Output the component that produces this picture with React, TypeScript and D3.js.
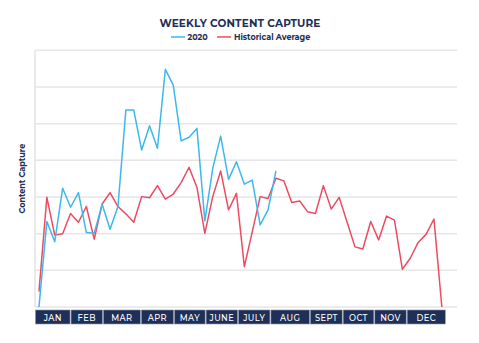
import React from "react";
import * as d3 from "d3";

const months = ["JAN", "FEB", "MAR", "APR", "MAY", "JUNE", "JULY", "AUG", "SEPT", "OCT", "NOV", "DEC"];
const monthWeeks = [4.5, 4.1, 4.8, 4.2, 4, 4.1, 4.1, 5, 4.15, 4, 4.1, 4.95];

const series2020 = [
  0, 2.33, 1.78, 3.24, 2.72, 3.12, 2.03, 2.01, 2.8, 2.12, 2.74, 5.37, 5.37, 4.28, 4.94, 4.33,
  6.48, 6.05, 4.53, 4.63, 4.87, 2.35, 3.78, 4.66, 3.48, 3.96, 3.35, 3.46, 2.24, 2.65, 3.71,
];
const historical = [
  0.42, 2.99, 1.96, 2.0, 2.55, 2.31, 2.74, 1.85, 2.81, 3.12, 2.74, 2.54, 2.31, 3.01, 2.98, 3.31,
  2.94, 3.08, 3.39, 3.81, 3.26, 2.01, 3.01, 3.71, 2.65, 3.1, 1.1, 2.05, 3.01, 2.96, 3.51, 3.44,
  2.85, 2.89, 2.6, 2.55, 3.31, 2.67, 2.99, 2.32, 1.64, 1.58, 2.33, 1.83, 2.48, 2.37, 1.03, 1.33,
  1.76, 1.98, 2.4, 0,
];
const yTicks = [0, 1, 2, 3, 4, 5, 6, 7];

const W = 479;
const H = 343;
const left = 35;
const right = 445.8;
const gridRight = 457;
const top = 50.3;
const bottom = 307;
const navy = "#1e2f58";
const blue = "#3cb9ea";
const red = "#ee4a62";
const font = "Montserrat, 'Open Sans', Lato, sans-serif";

export default function App() {
  const x = d3.scaleLinear().domain([-0.5, 51.5]).range([left, right]);
  const y = d3.scaleLinear().domain([0, 7]).range([bottom, top]);
  const line = d3
    .line<number>()
    .x((_, i) => x(i))
    .y((d) => y(d));

  let acc = -0.5;
  const cells = monthWeeks.map((w, i) => {
    const s = acc;
    acc += w;
    return { name: months[i], s, e: acc };
  });

  return (
    <svg
      width={W}
      height={H}
      style={{ position: "absolute", left: 0, top: 0, background: "#fff" }}
    >
      <defs>
        <clipPath id="plot">
          <rect x={left} y={top - 5} width={gridRight - left} height={bottom - top + 5} />
        </clipPath>
      </defs>
      <text
        x={240}
        y={27}
        textAnchor="middle"
        fontFamily={font}
        fontWeight={700}
        fontSize={10.5}
        fill={navy}
        letterSpacing={0.15}
      >
        WEEKLY CONTENT CAPTURE
      </text>
      <g fontFamily={font} fontWeight={700} fontSize={8} fill={navy}>
        <line x1={171} x2={185} y1={37} y2={37} stroke={blue} strokeWidth={1.5} />
        <text x={187.5} y={40}>2020</text>
        <line x1={217} x2={231} y1={37} y2={37} stroke={red} strokeWidth={1.5} />
        <text x={234} y={40}>Historical Average</text>
      </g>
      <text
        transform={`translate(25,${(top + bottom) / 2}) rotate(-90)`}
        textAnchor="middle"
        fontFamily={font}
        fontWeight={700}
        fontSize={8}
        fill={navy}
      >
        Content Capture
      </text>
      {yTicks.map((t) => (
        <line
          key={t}
          x1={left}
          x2={gridRight}
          y1={y(t)}
          y2={y(t)}
          stroke="#e6e6e6"
          strokeWidth={1.5}
        />
      ))}
      <line x1={left} x2={left} y1={top} y2={bottom} stroke="#e3e3e3" strokeWidth={1.5} />
      <g clipPath="url(#plot)" fill="none" strokeWidth={1.5} strokeLinejoin="round">
        <path d={line(historical) || ""} stroke={red} />
        <path d={line(series2020) || ""} stroke={blue} />
      </g>
      {cells.map((c) => (
        <g key={c.name}>
          <rect
            x={x(c.s) + 0.5}
            y={310}
            width={x(c.e) - x(c.s) - 1}
            height={14}
            fill={navy}
            stroke="#8d95aa"
            strokeWidth={0.6}
          />
          <text
            x={(x(c.s) + x(c.e)) / 2}
            y={320.7}
            textAnchor="middle"
            fontFamily={font}
            fontWeight={500}
            fontSize={8.3}
            letterSpacing={0.4}
            fill="#fff"
          >
            {c.name}
          </text>
        </g>
      ))}
    </svg>
  );
}
